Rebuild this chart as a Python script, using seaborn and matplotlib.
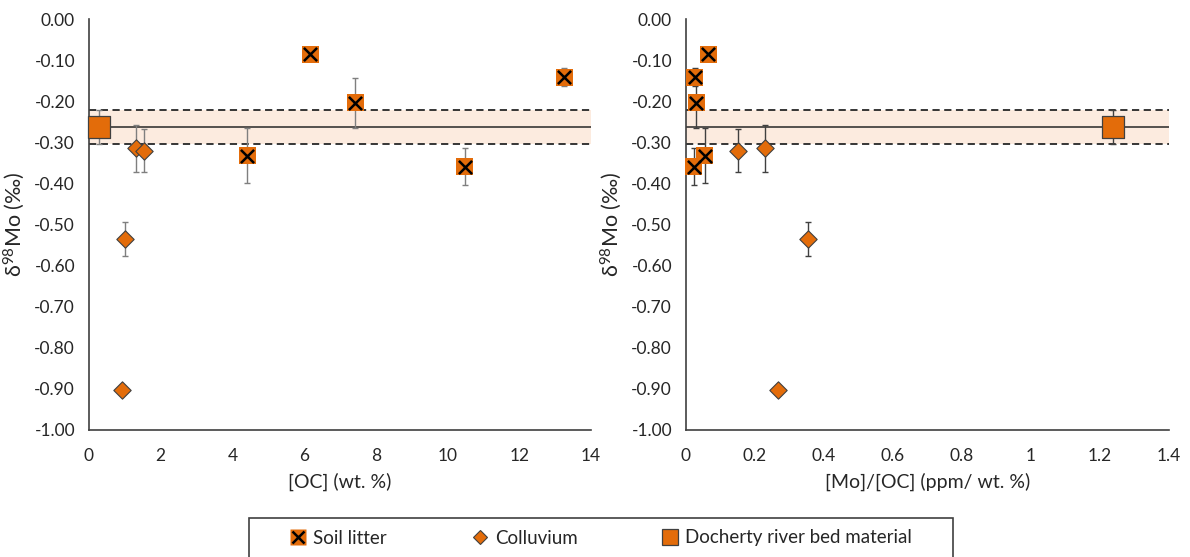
import numpy as np
import pandas as pd
import matplotlib
matplotlib.use("Agg")
import matplotlib.pyplot as plt
from matplotlib.ticker import MultipleLocator, FuncFormatter
from matplotlib.lines import Line2D
from matplotlib.patches import Rectangle
from matplotlib.legend_handler import HandlerTuple
import seaborn as sns

# ---------------- data ----------------
litter_oc = [6.17, 7.43, 13.26, 4.41, 10.48]
litter_mooc = [0.065, 0.030, 0.025, 0.055, 0.023]
litter_d98 = [-0.086, -0.204, -0.142, -0.333, -0.359]
litter_err = [0.005, 0.060, 0.022, 0.067, 0.046]

coll_oc = [1.30, 1.53, 1.00, 0.91]
coll_mooc = [0.230, 0.152, 0.355, 0.266]
coll_d98 = [-0.315, -0.320, -0.536, -0.903]
coll_err = [0.058, 0.052, 0.041, 0.0]

river_oc = [0.27]
river_mooc = [1.237]
river_d98 = [-0.262]
river_err = [0.041]

band_mean = -0.262
band_low = -0.303
band_high = -0.221

legend_labels = ["Soil litter", "Colluvium", "Docherty river bed material"]

# ---------------- style ----------------
sns.set_style("white")
plt.rcParams["font.family"] = ["Lato", "DejaVu Sans"]
plt.rcParams["mathtext.fontset"] = "custom"
plt.rcParams["mathtext.rm"] = "Lato"
plt.rcParams["mathtext.it"] = "Lato"
plt.rcParams["axes.unicode_minus"] = False

ORANGE = "#E36C0A"
EDGE = "#404040"
BAND = "#FCEBDF"
AX = "#404040"

fig = plt.figure(figsize=(11.9, 5.57), dpi=100)
W, H = 1190, 557
ax1 = fig.add_axes([89 / W, 1 - 430 / H, 502 / W, 411 / H])
ax2 = fig.add_axes([686 / W, 1 - 430 / H, 483 / W, 411 / H])

df_l = pd.DataFrame({"oc": litter_oc, "mooc": litter_mooc, "d98": litter_d98, "err": litter_err})
df_c = pd.DataFrame({"oc": coll_oc, "mooc": coll_mooc, "d98": coll_d98, "err": coll_err})
df_r = pd.DataFrame({"oc": river_oc, "mooc": river_mooc, "d98": river_d98, "err": river_err})


def draw(ax, xcol, xmax, xmajor, xminor, ecolor, xfmt):
    ax.set_xlim(0, xmax)
    ax.set_ylim(-1.0, 0.0)
    ax.axhspan(band_low, band_high, color=BAND, zorder=0, lw=0)
    ax.axhline(band_mean, color="#262626", lw=1.1, zorder=1)
    ax.axhline(band_low, color="#262626", lw=1.3, ls=(0, (4, 2.5)), zorder=1)
    ax.axhline(band_high, color="#262626", lw=1.3, ls=(0, (4, 2.5)), zorder=1)

    for df in (df_l, df_c, df_r):
        ax.errorbar(df[xcol], df["d98"], yerr=df["err"], fmt="none",
                    ecolor=ecolor, elinewidth=1.0, capsize=2.2, capthick=1.0,
                    zorder=2, clip_on=False)

    sns.scatterplot(data=df_c, x=xcol, y="d98", ax=ax, marker="D", s=78,
                    color=ORANGE, edgecolor=EDGE, linewidth=0.8, zorder=3,
                    clip_on=False, legend=False)
    sns.scatterplot(data=df_r, x=xcol, y="d98", ax=ax, marker="s", s=250,
                    color=ORANGE, edgecolor=EDGE, linewidth=0.9, zorder=3,
                    clip_on=False, legend=False)
    sns.scatterplot(data=df_l, x=xcol, y="d98", ax=ax, marker="s", s=150,
                    color=ORANGE, edgecolor="none", linewidth=0, zorder=3,
                    clip_on=False, legend=False)
    sns.scatterplot(data=df_l, x=xcol, y="d98", ax=ax, marker="x", s=90,
                    color="black", linewidth=1.8, zorder=4,
                    clip_on=False, legend=False)

    ax.set_xlabel("")
    ax.set_ylabel("δ$^{98}$Mo (‰)", fontsize=15.5, color="#262626", labelpad=5)
    for s in ("top", "right"):
        ax.spines[s].set_visible(False)
    for s in ("left", "bottom"):
        ax.spines[s].set_color(AX)
        ax.spines[s].set_linewidth(1.2)
    ax.xaxis.set_major_locator(MultipleLocator(xmajor))
    ax.xaxis.set_minor_locator(MultipleLocator(xminor))
    ax.yaxis.set_major_locator(MultipleLocator(0.1))
    ax.yaxis.set_minor_locator(MultipleLocator(0.02))
    ax.yaxis.set_major_formatter(FuncFormatter(lambda v, p: "%.2f" % (0.0 if abs(v) < 1e-9 else v)))
    ax.xaxis.set_major_formatter(FuncFormatter(xfmt))
    ax.tick_params(axis="both", which="major", direction="out", length=5, width=1.1,
                   color=AX, labelsize=12.5, labelcolor="#262626", pad=5)
    ax.tick_params(axis="both", which="minor", direction="out", length=4, width=1.1, color=AX)
    ax.tick_params(axis="y", which="minor", direction="inout", length=5)
    ax.tick_params(axis="x", which="major", pad=8)
    ax.grid(False)


draw(ax1, "oc", 14, 2, 0.5, "#7F7F7F", lambda v, p: "%d" % round(v))
draw(ax2, "mooc", 1.4, 0.2, 0.05, "#404040", lambda v, p: ("%.1f" % v).rstrip("0").rstrip(".") if v else "0")
ax1.set_xlabel("[OC] (wt. %)", fontsize=14, color="#262626", labelpad=6)
ax2.set_xlabel("[Mo]/[OC] (ppm/ wt. %)", fontsize=14, color="#262626", labelpad=6)

# ---------------- legend ----------------
fig.patches.append(Rectangle((249 / W, 1 - 559 / H), (953 - 249) / W, (559 - 518) / H,
                             transform=fig.transFigure, facecolor="white",
                             edgecolor="#404040", linewidth=1.2, zorder=0))
h_sq = Line2D([], [], ls="none", marker="s", markersize=11, markerfacecolor=ORANGE,
              markeredgecolor="none")
h_x = Line2D([], [], ls="none", marker="x", markersize=8, markeredgecolor="black",
             markeredgewidth=1.8)
h_d = Line2D([], [], ls="none", marker="D", markersize=7, markerfacecolor=ORANGE,
             markeredgecolor=EDGE, markeredgewidth=0.8)
h_r = Line2D([], [], ls="none", marker="s", markersize=11, markerfacecolor=ORANGE,
             markeredgecolor=EDGE, markeredgewidth=0.9)
fig.legend([(h_sq, h_x), h_d, h_r], legend_labels,
           handler_map={tuple: HandlerTuple(ndivide=1)},
           loc="center", bbox_to_anchor=(601 / W, 1 - 538 / H), ncol=3,
           frameon=False, fontsize=13.5, handlelength=0.9, handletextpad=0.35,
           columnspacing=4.5, labelcolor="#262626")

fig.savefig("out.png", dpi=100)
